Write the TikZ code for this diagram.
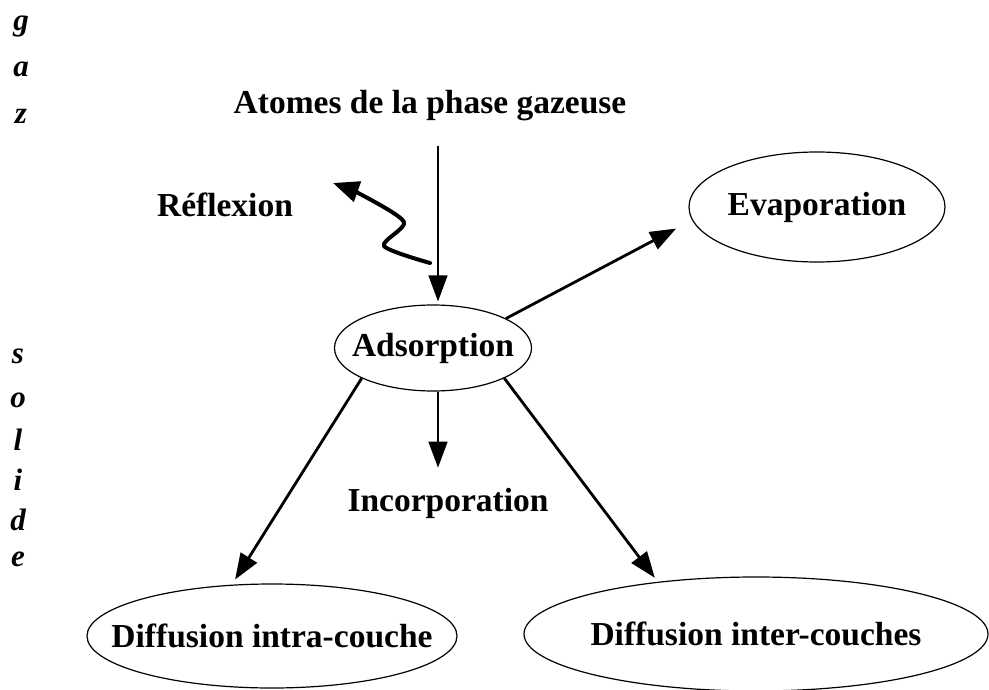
\documentclass[tikz,border=0pt]{standalone}
\usepackage{fontspec}
\setmainfont{Liberation Serif}
\usetikzlibrary{shapes.geometric,arrows.meta}
\begin{document}
\begin{tikzpicture}[x=1pt,y=-1pt,
  lbl/.style={font=\fontsize{33.5}{35}\selectfont\bfseries, inner sep=0pt},
  blob/.style={ellipse, draw, line width=1.2pt, inner xsep=-80pt, inner ysep=-12pt,
    font=\fontsize{33.5}{35}\selectfont\bfseries},
  letter/.style={font=\fontsize{31}{31}\selectfont\bfseries\itshape, anchor=base, inner sep=0pt},
  tip/.style={-{Triangle[length=26pt,width=19pt]}},
  thinarr/.style={tip, line width=1.5pt},
  thickarr/.style={tip, line width=2.8pt},
  wavy/.style={-{Triangle[length=26pt,width=21pt]}, line width=4pt, line cap=round, line join=round}]
\useasboundingbox (0,0) rectangle (989,690);

% phase labels written vertically
\node[letter] (g1) at (21,31) {g};
\node[letter] (g2) at (21,77) {a};
\node[letter] (g3) at (21,124) {z};
\node[letter] (s1) at (18,363) {s};
\node[letter] (s2) at (18,407) {o};
\node[letter] (s3) at (18,450) {l};
\node[letter] (s4) at (18,490) {i};
\node[letter] (s5) at (18,530) {d};
\node[letter] (s6) at (18,566) {e};

% processes
\node[lbl] (atoms) at (430,106) {Atomes de la phase gazeuse};
\node[lbl] (refl) at (225,205) {Réflexion};
\node[blob, minimum width=197pt, minimum height=86pt] (ads) at (433,348) {Adsorption};
\node[blob, minimum width=256pt, minimum height=110pt] (evap) at (817,207) {Evaporation};
\node[lbl] (incorp) at (448,503) {Incorporation};
\node[blob, minimum width=370pt, minimum height=104pt] (intra) at (272,636) {Diffusion intra-couche};
\node[blob, minimum width=464pt, minimum height=114pt] (inter) at (756,634) {Diffusion inter-couches};

% incoming atoms
\draw[thinarr, shorten <=24pt, shorten >=3pt] ([xshift=5pt]atoms.south -| ads.north) -- ([xshift=5pt]ads.north);

% reflected atom path
\coordinate (w0) at (430,263);
\coordinate (w4) at (333,183);
\draw[wavy] plot[smooth, tension=0.45] coordinates {(w0) (384,246) (404,222) (362,195) (w4)};

% transitions from the adsorbed state
\draw[thickarr, shorten >=18pt] (ads.22) -- (evap.186);
\draw[thinarr, shorten >=20pt] ([xshift=5pt]ads.south) -- ([xshift=5pt]ads.south |- incorp.north);
\draw[thickarr, shorten >=6pt] (ads.203) -- (intra.128);
\draw[thickarr, shorten >=5pt] (ads.-23) -- (inter.152);
\end{tikzpicture}
\end{document}
